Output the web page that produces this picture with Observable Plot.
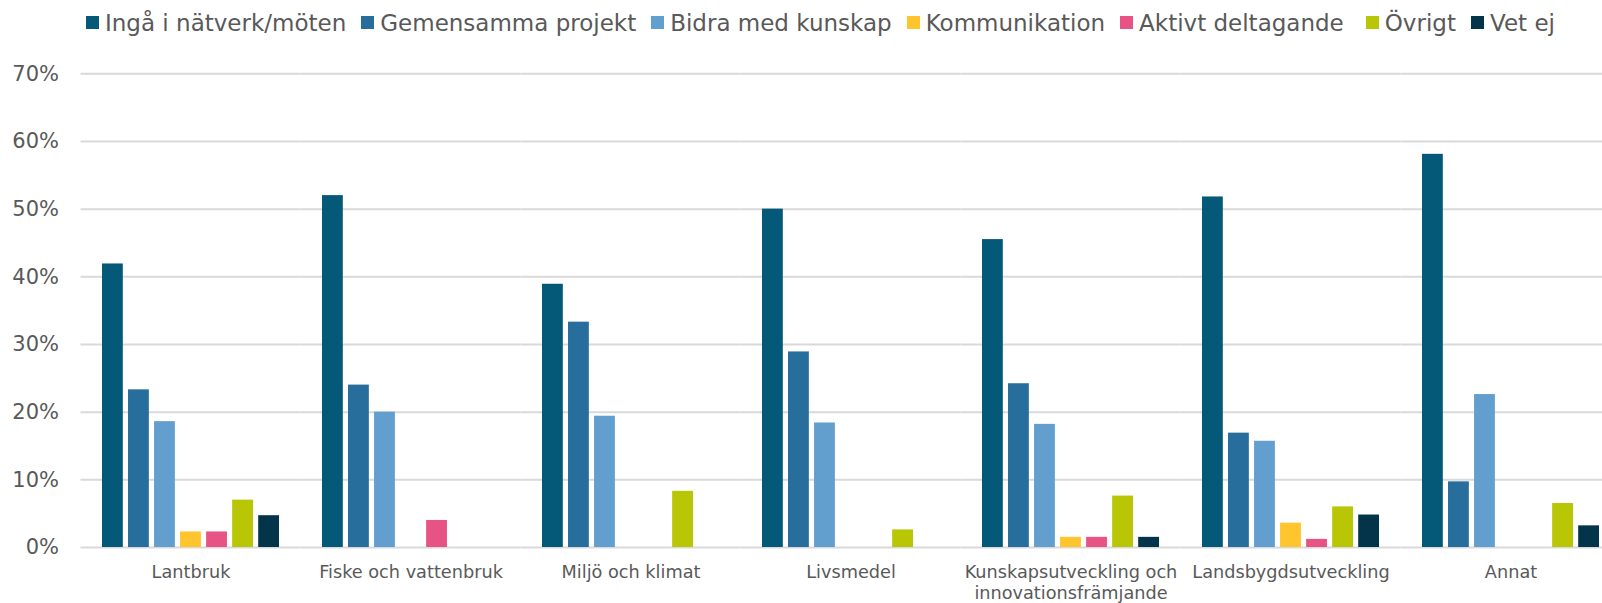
<!DOCTYPE html>
<html><head><meta charset="utf-8">
<script src="https://cdn.jsdelivr.net/npm/d3@7"></script>
<script src="https://cdn.jsdelivr.net/npm/@observablehq/plot@0.6"></script>
<style>
body{margin:0;background:#fff;font-family:"DejaVu Sans",sans-serif;width:1602px;overflow:hidden;}
#legend{height:45px;display:flex;align-items:center;padding-left:86px;font-size:23px;color:#595959;white-space:nowrap;}
#legend .item{display:flex;align-items:center;margin-right:15px;}
#legend .sw{width:13px;height:13px;margin-right:6px;flex:none;}
</style></head><body>
<div id="legend"></div>
<div id="chart"></div>
<script>
const categories = ["Lantbruk", "Fiske och vattenbruk", "Miljö och klimat", "Livsmedel", "Kunskapsutveckling och innovationsfrämjande", "Landsbygdsutveckling", "Annat"];
const series = ["Ingå i nätverk/möten", "Gemensamma projekt", "Bidra med kunskap", "Kommunikation", "Aktivt deltagande", "Övrigt", "Vet ej"];
const colors = ["#045878", "#286E9C", "#639FCE", "#FEC52E", "#E85386", "#B8C606", "#03344A"];
const ingaNatverk   = [41.9, 52.0, 38.9, 50.0, 45.5, 51.8, 58.1];
const gemensamma    = [23.3, 24.0, 33.3, 28.9, 24.2, 16.9,  9.7];
const bidraKunskap  = [18.6, 20.0, 19.4, 18.4, 18.2, 15.7, 22.6];
const kommunikation = [ 2.3,  0,    0,    0,    1.5,  3.6,  0  ];
const aktivt        = [ 2.3,  4.0,  0,    0,    1.5,  1.2,  0  ];
const ovrigt        = [ 7.0,  0,    8.3,  2.6,  7.6,  6.0,  6.5];
const vetEj         = [ 4.7,  0,    0,    0,    1.5,  4.8,  3.2];
const yTicks = [0, 0.1, 0.2, 0.3, 0.4, 0.5, 0.6, 0.7];

const seriesValues = [ingaNatverk, gemensamma, bidraKunskap, kommunikation, aktivt, ovrigt, vetEj];
const rows = [];
categories.forEach((c, i) => series.forEach((s, j) => {
  const v = seriesValues[j][i];
  if (v > 0) rows.push({cat: c, series: s, value: v / 100});
}));

const legend = document.getElementById("legend");
series.forEach((s, j) => {
  const it = document.createElement("div"); it.className = "item";
  if (s === "Aktivt deltagande") it.style.marginRight = "22px";
  const sw = document.createElement("span"); sw.className = "sw"; sw.style.background = colors[j];
  const tx = document.createElement("span"); tx.textContent = s;
  it.appendChild(sw); it.appendChild(tx); legend.appendChild(it);
});

const chart = Plot.plot({
  width: 1602, height: 558,
  marginLeft: 80, marginRight: 0, marginTop: 28.3, marginBottom: 56,
  style: {fontFamily: "DejaVu Sans", color: "#595959", background: "white"},
  fx: {domain: categories, range: [80.5, 1620.5], padding: 0, round: false},
  x: {domain: series, paddingInner: 0.2, paddingOuter: 0.825, round: false, axis: null},
  y: {domain: [0, 0.7]},
  color: {domain: series, range: colors},
  marks: [
    Plot.gridY(yTicks, {stroke: "#d9d9d9", strokeOpacity: 1, strokeWidth: 2}),
    Plot.barY(rows, {fx: "cat", x: "series", y: "value", fill: "series"}),
    Plot.axisY({ticks: yTicks, tickFormat: d3.format(".0%"), tickSize: 0, tickPadding: 22, fontSize: 21, label: null}),
    Plot.axisFx({anchor: "bottom", tickSize: 0, tickPadding: 15, fontSize: 17.7, lineHeight: 1.2, label: null,
      tickFormat: d => d.replace(" och innovations", " och\ninnovations")})
  ]
});
document.getElementById("chart").appendChild(chart);
</script>
</body></html>
